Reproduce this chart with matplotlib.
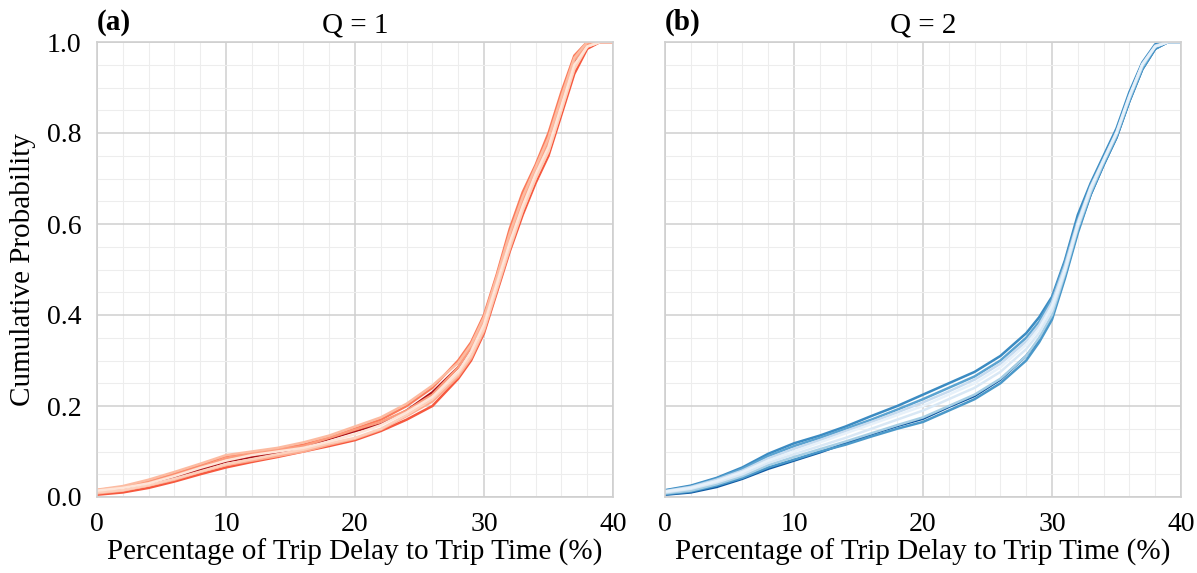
import numpy as np
import matplotlib as mpl
mpl.rcParams['font.family'] = 'Liberation Serif'
mpl.rcParams['axes.linewidth'] = 1.2
import matplotlib.pyplot as plt
from matplotlib.ticker import MultipleLocator

# ---------------------------------------------------------------
# data (CDF values at shared x positions)
# ---------------------------------------------------------------
xs = [0, 2, 4, 6, 8, 10, 12, 14, 16, 18, 20, 22, 24, 26, 28, 29, 30,
      31, 32, 33, 34, 35, 36, 37, 38, 39, 40]

q1_curves = [
    [0.015, 0.022, 0.036, 0.052, 0.070, 0.090, 0.098, 0.105, 0.115, 0.130, 0.150, 0.170, 0.200, 0.240, 0.300, 0.340, 0.400, 0.490, 0.590, 0.670, 0.730, 0.800, 0.890, 0.970, 1.0, 1.0, 1.0],
    [0.010, 0.017, 0.028, 0.044, 0.060, 0.078, 0.088, 0.098, 0.110, 0.128, 0.145, 0.160, 0.190, 0.230, 0.285, 0.325, 0.385, 0.470, 0.565, 0.645, 0.715, 0.775, 0.865, 0.955, 0.995, 1.0, 1.0],
    [0.005, 0.010, 0.020, 0.034, 0.050, 0.065, 0.077, 0.088, 0.100, 0.112, 0.125, 0.145, 0.170, 0.200, 0.260, 0.300, 0.360, 0.450, 0.540, 0.620, 0.690, 0.750, 0.840, 0.930, 0.985, 1.0, 1.0],
    [0.012, 0.020, 0.032, 0.048, 0.066, 0.085, 0.095, 0.104, 0.112, 0.130, 0.148, 0.165, 0.190, 0.225, 0.285, 0.330, 0.390, 0.480, 0.570, 0.650, 0.720, 0.780, 0.870, 0.960, 0.995, 1.0, 1.0],
    [0.016, 0.024, 0.038, 0.055, 0.073, 0.092, 0.100, 0.108, 0.120, 0.135, 0.155, 0.175, 0.205, 0.245, 0.295, 0.335, 0.395, 0.485, 0.580, 0.660, 0.725, 0.790, 0.880, 0.965, 1.0, 1.0, 1.0],
    [0.008, 0.014, 0.025, 0.038, 0.055, 0.070, 0.080, 0.090, 0.100, 0.115, 0.128, 0.148, 0.178, 0.210, 0.265, 0.305, 0.365, 0.455, 0.545, 0.630, 0.700, 0.760, 0.850, 0.945, 0.990, 1.0, 1.0],
    [0.010, 0.015, 0.026, 0.040, 0.056, 0.072, 0.083, 0.094, 0.104, 0.118, 0.130, 0.150, 0.180, 0.215, 0.270, 0.310, 0.370, 0.460, 0.550, 0.630, 0.700, 0.760, 0.850, 0.940, 0.990, 1.0, 1.0],
    [0.014, 0.020, 0.030, 0.046, 0.064, 0.080, 0.092, 0.100, 0.108, 0.122, 0.138, 0.158, 0.186, 0.220, 0.275, 0.320, 0.380, 0.470, 0.560, 0.640, 0.710, 0.770, 0.860, 0.950, 0.990, 1.0, 1.0],
]

q2_curves = [
    [0.005, 0.010, 0.022, 0.040, 0.062, 0.080, 0.098, 0.118, 0.138, 0.156, 0.172, 0.198, 0.222, 0.258, 0.310, 0.345, 0.395, 0.485, 0.585, 0.665, 0.730, 0.790, 0.870, 0.940, 0.985, 1.0, 1.0],
    [0.015, 0.025, 0.042, 0.065, 0.095, 0.118, 0.135, 0.155, 0.178, 0.200, 0.225, 0.250, 0.275, 0.310, 0.360, 0.395, 0.440, 0.520, 0.620, 0.690, 0.750, 0.810, 0.890, 0.955, 0.995, 1.0, 1.0],
    [0.006, 0.012, 0.025, 0.042, 0.065, 0.082, 0.100, 0.115, 0.133, 0.150, 0.165, 0.190, 0.215, 0.250, 0.300, 0.340, 0.390, 0.480, 0.580, 0.665, 0.730, 0.790, 0.870, 0.940, 0.985, 1.0, 1.0],
    [0.014, 0.023, 0.040, 0.062, 0.090, 0.112, 0.130, 0.150, 0.170, 0.192, 0.215, 0.240, 0.265, 0.300, 0.350, 0.385, 0.435, 0.515, 0.610, 0.685, 0.745, 0.805, 0.885, 0.950, 0.990, 1.0, 1.0],
    [0.008, 0.014, 0.028, 0.046, 0.070, 0.088, 0.105, 0.122, 0.140, 0.158, 0.175, 0.200, 0.225, 0.260, 0.310, 0.350, 0.400, 0.490, 0.590, 0.670, 0.735, 0.795, 0.875, 0.945, 0.990, 1.0, 1.0],
    [0.013, 0.022, 0.038, 0.058, 0.085, 0.106, 0.125, 0.145, 0.165, 0.186, 0.208, 0.232, 0.258, 0.293, 0.342, 0.378, 0.428, 0.508, 0.605, 0.682, 0.742, 0.802, 0.882, 0.952, 0.992, 1.0, 1.0],
    [0.010, 0.018, 0.032, 0.050, 0.075, 0.094, 0.112, 0.130, 0.150, 0.170, 0.190, 0.215, 0.240, 0.275, 0.325, 0.360, 0.410, 0.495, 0.595, 0.675, 0.740, 0.800, 0.880, 0.950, 0.990, 1.0, 1.0],
    [0.012, 0.020, 0.035, 0.055, 0.080, 0.100, 0.120, 0.140, 0.160, 0.180, 0.200, 0.225, 0.250, 0.285, 0.335, 0.370, 0.420, 0.500, 0.600, 0.680, 0.740, 0.800, 0.880, 0.950, 0.990, 1.0, 1.0],
]

# shade of each curve in its colormap (drawn in list order)
q1_shades = [0.45, 0.85, 0.55, 0.35, 0.25, 0.3, 0.18, 0.1]
q2_shades = [0.85, 0.65, 0.6, 0.55, 0.35, 0.25, 0.15, 0.08]

panels = [('(a)', 'Q = 1', q1_curves, q1_shades, 'Reds'),
          ('(b)', 'Q = 2', q2_curves, q2_shades, 'Blues')]

fig = plt.figure(figsize=(11.97, 5.73), dpi=100, facecolor='w')
W, H = 1197., 573.
lefts = [97., 665.]

for i, (tag, ttl, curves, shades, cmname) in enumerate(panels):
    ax = fig.add_axes([lefts[i] / W, 1 - 497. / H, 516. / W, 455. / H])
    cmap = plt.get_cmap(cmname)
    for yv, s in zip(curves, shades):
        ax.plot(xs, yv, color=cmap(s), lw=1.8, solid_capstyle='round')
    ax.set_xlim(0, 40)
    ax.set_ylim(0, 1.0)
    ax.xaxis.set_major_locator(MultipleLocator(10))
    ax.xaxis.set_minor_locator(MultipleLocator(2))
    ax.yaxis.set_major_locator(MultipleLocator(0.2))
    ax.yaxis.set_minor_locator(MultipleLocator(0.05))
    ax.grid(which='major', color='#cfcfcf', lw=1.1)
    ax.grid(which='minor', color='#ededed', lw=0.8)
    ax.set_axisbelow(True)
    for sp in ax.spines.values():
        sp.set_color('#cfcfcf')
    ax.tick_params(which='both', length=0, labelsize=20, pad=11)
    ax.set_xlabel('Percentage of Trip Delay to Trip Time (%)', fontsize=21, labelpad=1)
    ax.set_title(ttl, fontsize=21, pad=7)
    ax.text(0.0, 1.014, tag, transform=ax.transAxes, fontsize=21,
            fontweight='bold', ha='left', va='bottom')
    if i == 0:
        ax.set_yticks([0, 0.2, 0.4, 0.6, 0.8, 1.0])
        ax.set_yticklabels(['0.0', '0.2', '0.4', '0.6', '0.8', '1.0'])
        ax.set_ylabel('Cumulative Probability', fontsize=21, labelpad=8)
    else:
        ax.set_yticklabels([])

plt.savefig('out.png', dpi=100)
